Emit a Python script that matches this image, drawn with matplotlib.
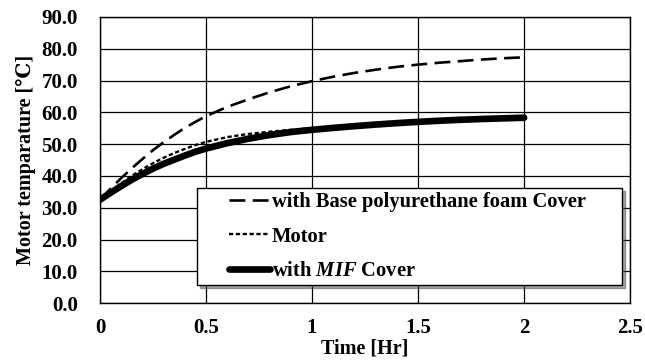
import matplotlib
matplotlib.use("Agg")
import matplotlib.pyplot as plt
from matplotlib.legend_handler import HandlerLine2D

plt.rcParams['font.family'] = ['Liberation Serif', 'DejaVu Serif', 'DejaVu Sans']
plt.rcParams['font.weight'] = 'bold'
plt.rcParams['mathtext.fontset'] = 'custom'
plt.rcParams['mathtext.it'] = 'Liberation Serif:italic:bold'
plt.rcParams['mathtext.rm'] = 'Liberation Serif:bold'

time = [0.0, 0.05, 0.1, 0.15, 0.2, 0.25, 0.3, 0.35, 0.4, 0.45, 0.5,
        0.6, 0.7, 0.8, 0.9, 1.0, 1.1, 1.2, 1.3, 1.4, 1.5, 1.6, 1.7, 1.8, 1.9, 2.0]
foam = [32.5, 36.0, 39.3, 42.4, 45.3, 48.1, 50.6, 52.9, 55.1, 57.0, 58.8,
        61.7, 64.1, 66.3, 68.2, 69.8, 71.2, 72.4, 73.4, 74.3, 75.0, 75.6, 76.1, 76.6, 77.0, 77.3]
motor = [32.5, 35.2, 37.7, 40.0, 42.1, 44.0, 45.7, 47.2, 48.5, 49.7, 50.7,
         52.2, 53.2, 53.9, 54.5, 55.0, 55.5, 55.9, 56.3, 56.7, 57.0, 57.3, 57.6, 57.9, 58.1, 58.3]
mif = [32.5, 34.7, 36.8, 38.8, 40.6, 42.3, 43.8, 45.1, 46.4, 47.6, 48.6,
       50.3, 51.7, 52.85, 53.8, 54.5, 55.1, 55.65, 56.15, 56.6, 57.0, 57.35, 57.65, 57.9, 58.1, 58.3]

labels = ["with Base polyurethane foam Cover", "Motor", "with $\\mathit{MIF}$ Cover"]
xticks = [0, 0.5, 1, 1.5, 2, 2.5]
xticklabels = ["0", "0.5", "1", "1.5", "2", "2.5"]
yticks = [0, 10, 20, 30, 40, 50, 60, 70, 80, 90]
yticklabels = ["%.1f" % v for v in yticks]

fig = plt.figure(figsize=(6.45, 3.6), dpi=100)
ax = fig.add_axes([0.155, 0.158, 0.822, 0.795])

l1, = ax.plot(time, foam, color='black', lw=1.9, dashes=(6, 2.8), label=labels[0])
l2, = ax.plot(time, motor, color='black', lw=1.7, dashes=(1.8, 1.1), label=labels[1])
l3, = ax.plot(time, mif, color='black', lw=4.8, solid_capstyle='round', label=labels[2])

ax.set_xlim(0, 2.5)
ax.set_ylim(0, 90)
ax.set_xticks(xticks)
ax.set_xticklabels(xticklabels)
ax.set_yticks(yticks)
ax.set_yticklabels(yticklabels)
ax.tick_params(axis='both', length=0, labelsize=15)
ax.tick_params(axis='y', pad=16)
ax.tick_params(axis='x', pad=11)
ax.grid(True, color='black', lw=0.9)
ax.set_axisbelow(True)
for s in ax.spines.values():
    s.set_linewidth(1.0)
    s.set_color('black')

ax.set_xlabel("Time [Hr]", fontsize=14.5, fontweight='bold', labelpad=0)
ax.set_ylabel("Motor temparature [℃]", fontsize=14.5, fontweight='bold', labelpad=4)

hm = {l: HandlerLine2D(xpad=1.35) for l in (l1, l2, l3)}
leg = ax.legend(loc='lower left', bbox_to_anchor=(0.183, 0.063, 0.802, 0.339),
                mode='expand', fontsize=14.8, frameon=True, fancybox=False,
                shadow=True, handlelength=3.35, handletextpad=0.1,
                borderpad=0.2, labelspacing=0.7, borderaxespad=0,
                handler_map=hm)
leg.get_frame().set_edgecolor('black')
leg.get_frame().set_linewidth(1.0)
for t in leg.get_texts():
    t.set_fontweight('bold')

fig.savefig("out.png", dpi=100)
